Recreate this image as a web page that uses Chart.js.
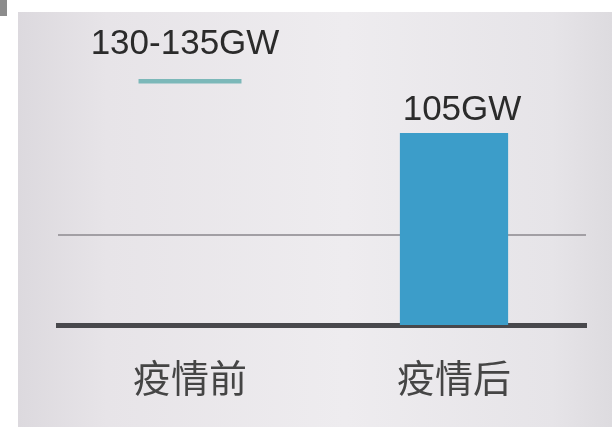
<!DOCTYPE html>
<html>
<head>
<meta charset="utf-8">
<script src="https://cdn.jsdelivr.net/npm/chart.js@4/dist/chart.umd.min.js"></script>
<style>
  html, body { margin: 0; padding: 0; background: #ffffff; }
  #wrap { width: 612px; height: 427px; position: relative; }
</style>
</head>
<body>
<div id="wrap"><canvas id="capChart"></canvas></div>
<script>
"use strict";

/* ---------- data ---------- */
const categories = ["疫情前", "疫情后"];
const rangeLow = [132, null];      // pre-epidemic estimate band (130-135GW)
const rangeHigh = [134.5, null];
const capacity = [null, 105];      // post-epidemic value
const valueLabels = ["130-135GW", "105GW"];
const gridValues = [49];
const yMax = 170;

/* ---------- plugins ---------- */
const panelBackground = {
  id: "panelBackground",
  beforeDraw(chart) {
    const { ctx, width, height } = chart;
    ctx.save();
    ctx.fillStyle = "#ffffff";
    ctx.fillRect(0, 0, width, height);
    const g = ctx.createLinearGradient(18, 0, width, 0);
    g.addColorStop(0, "#dcd9de");
    g.addColorStop(0.15, "#e7e4e8");
    g.addColorStop(0.55, "#eeecef");
    g.addColorStop(0.9, "#e6e4e8");
    g.addColorStop(1, "#dddbdf");
    ctx.fillStyle = g;
    ctx.fillRect(18, 12, width - 18, height - 12);
    ctx.fillStyle = "#8c8c8c";
    ctx.fillRect(0, 0, 7, 16);
    ctx.restore();
  }
};

const valueText = {
  id: "valueText",
  afterDatasetsDraw(chart) {
    const { ctx } = chart;
    ctx.save();
    ctx.font = "35px 'Liberation Sans', Arial, sans-serif";
    ctx.fillStyle = "#2b2b2b";
    ctx.textAlign = "center";
    ctx.textBaseline = "alphabetic";
    chart.data.datasets.forEach((ds, di) => {
      const meta = chart.getDatasetMeta(di);
      meta.data.forEach((el, i) => {
        if (ds.data[i] == null) return;
        const top = Math.min(el.y, el.base);
        const gap = ds.labelGap || 12;
        ctx.fillText(valueLabels[i], el.x + (ds.labelShift || 0), top - gap);
      });
    });
    ctx.restore();
  }
};

/* ---------- chart ---------- */
new Chart(document.getElementById("capChart"), {
  type: "bar",
  data: {
    labels: categories,
    datasets: [
      {
        label: "range",
        data: categories.map((c, i) => rangeLow[i] == null ? null : [rangeLow[i], rangeHigh[i]]),
        backgroundColor: "#7cb8b9",
        barPercentage: 0.39,
        categoryPercentage: 1,
        grouped: false,
        labelGap: 25,
        labelShift: -5
      },
      {
        label: "capacity",
        data: capacity,
        backgroundColor: "#3c9dc9",
        barPercentage: 0.41,
        categoryPercentage: 1,
        grouped: false,
        labelGap: 13,
        labelShift: 8
      }
    ]
  },
  options: {
    responsive: true,
    maintainAspectRatio: false,
    animation: false,
    layout: { padding: { left: 58, right: 26, top: 14, bottom: 0 } },
    plugins: {
      legend: { display: false },
      tooltip: { enabled: false }
    },
    scales: {
      x: {
        z: 1,
        grid: { display: false, drawTicks: false },
        border: { display: true, color: "#48484c", width: 5 },
        ticks: {
          color: "#454545",
          padding: 30,
          font: { family: "'Noto Sans CJK SC', sans-serif", size: 38 }
        },
        afterFit(scale) { scale.height = 102; }
      },
      y: {
        min: 0,
        max: yMax,
        border: { display: false },
        grid: { color: "#a29fa4", lineWidth: 2, drawTicks: false },
        ticks: { display: false },
        afterBuildTicks(scale) { scale.ticks = gridValues.map(v => ({ value: v })); },
        afterFit(scale) { scale.width = 0; }
      }
    }
  },
  plugins: [panelBackground, valueText]
});
</script>
</body>
</html>
